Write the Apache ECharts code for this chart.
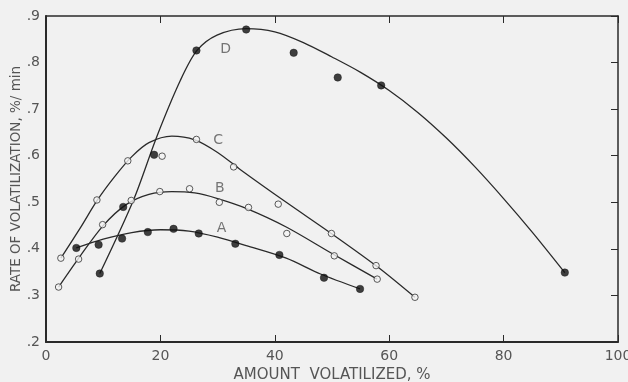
<!DOCTYPE html>
<html>
<head>
<meta charset="utf-8">
<script src="https://cdn.jsdelivr.net/npm/echarts@6/dist/echarts.min.js"></script>
<style>html,body{margin:0;padding:0;background:#f1f1f1}#c{width:628px;height:382px}</style>
</head>
<body>
<div id="c"></div>
<script>
// Tick labels
const xTicks = [0, 20, 40, 60, 80, 100];
const yTickLabels = {0.2: '.2', 0.3: '.3', 0.4: '.4', 0.5: '.5', 0.6: '.6', 0.7: '.7', 0.8: '.8', 0.9: '.9'};

// Measured points
const pointsA = [[5.3,0.402],[9.2,0.409],[13.3,0.422],[17.8,0.436],[22.3,0.443],[26.7,0.433],[33.1,0.411],[40.8,0.387],[48.6,0.338],[54.9,0.314]];
const pointsB = [[2.2,0.318],[5.7,0.378],[9.9,0.452],[14.9,0.504],[19.9,0.523],[25.1,0.529],[30.3,0.500],[35.4,0.489],[42.1,0.433],[50.4,0.385],[57.9,0.335]];
const pointsC = [[2.6,0.380],[8.9,0.505],[14.3,0.589],[20.3,0.599],[26.3,0.635],[32.8,0.576],[40.6,0.496],[49.9,0.433],[57.7,0.364],[64.5,0.296]];
const pointsD = [[9.4,0.347],[13.5,0.490],[18.9,0.602],[26.3,0.826],[35.0,0.871],[43.3,0.821],[51.0,0.768],[58.6,0.751],[90.7,0.349]];

// Fitted curves
const curveA = [[5.3,0.402],[10,0.421],[15,0.435],[20,0.441],[25,0.438],[30,0.425],[35,0.407],[42,0.380],[48,0.346],[54.9,0.314]];
const curveB = [[2.2,0.318],[6,0.385],[10,0.450],[14,0.495],[18,0.517],[22,0.523],[26,0.520],[30,0.508],[35,0.487],[42,0.447],[50,0.390],[57.9,0.335]];
const curveC = [[2.6,0.380],[6,0.445],[9,0.505],[12,0.555],[15,0.598],[18,0.628],[22,0.642],[26,0.634],[30,0.607],[34,0.570],[42,0.500],[50,0.432],[58,0.361],[64.5,0.296]];
const curveD = [[9.4,0.347],[15.3,0.505],[19.4,0.642],[23.5,0.762],[26.4,0.826],[29.9,0.859],[35,0.873],[40,0.866],[45,0.843],[50,0.812],[55,0.779],[60,0.740],[65,0.693],[70,0.638],[75,0.576],[80,0.508],[85,0.436],[90.7,0.349]];

// Curve labels
const curveLabels = [['A',30.7,0.444],['B',30.4,0.530],['C',30.1,0.633],['D',31.4,0.829]];

const chart = echarts.init(document.getElementById('c'));
const textColor = '#555';
const lineColor = '#2a2a2a';
const font = 'DejaVu Sans';

function curve(data) {
  return {type:'line', data:data, smooth:0.3, showSymbol:false, silent:true,
    lineStyle:{color:lineColor, width:1.3}, z:2};
}
function pts(data, filled) {
  return {type:'scatter', data:data, symbol:'circle', symbolSize: filled ? 7.5 : 6.5,
    itemStyle: filled ? {color:'#111', borderColor:'#111', borderWidth:0.5}
                      : {color:'#f4f4f4', borderColor:'#333', borderWidth:1}, z:3};
}

chart.setOption({
  backgroundColor:'#f1f1f1',
  animation:false,
  grid:{left:46, right:10, top:16, bottom:40, containLabel:false, outerBoundsMode:'none'},
  xAxis:[{
    type:'value', min:0, max:100, interval:20, position:'bottom',
    name:'AMOUNT  VOLATILIZED, %', nameLocation:'middle', nameGap:26, nameMoveOverlap:false,
    nameTextStyle:{color:textColor, fontFamily:font, fontSize:15},
    axisLine:{show:true, onZero:false, lineStyle:{color:lineColor, width:2}},
    axisTick:{show:true, inside:true, length:7, lineStyle:{color:lineColor, width:1}},
    axisLabel:{color:textColor, fontFamily:font, fontSize:14, margin:7,
      formatter:v => xTicks.includes(v) ? String(v) : ''},
    splitLine:{show:false}
  },{
    type:'value', min:0, max:100, interval:20, position:'top',
    axisLine:{show:true, onZero:false, lineStyle:{color:lineColor, width:1.5}},
    axisTick:{show:true, inside:true, length:7, lineStyle:{color:lineColor, width:1}},
    axisLabel:{show:false}, splitLine:{show:false}
  }],
  yAxis:[{
    type:'value', min:0.2, max:0.9, interval:0.1, position:'left',
    name:'RATE OF VOLATILIZATION, %/ min', nameLocation:'middle', nameGap:23, nameMoveOverlap:false,
    nameTextStyle:{color:textColor, fontFamily:font, fontSize:13.5},
    axisLine:{show:true, onZero:false, lineStyle:{color:lineColor, width:2}},
    axisTick:{show:false},
    axisLabel:{color:textColor, fontFamily:font, fontSize:14, margin:6,
      formatter:v => yTickLabels[Math.round(v*10)/10] || ''},
    splitLine:{show:false}
  },{
    type:'value', min:0.2, max:0.9, interval:0.1, position:'right',
    axisLine:{show:true, onZero:false, lineStyle:{color:lineColor, width:1.5}},
    axisTick:{show:true, inside:true, length:7, lineStyle:{color:lineColor, width:1}},
    axisLabel:{show:false}, splitLine:{show:false}
  }],
  series:[
    curve(curveA), curve(curveB), curve(curveC), curve(curveD),
    pts(pointsA, true), pts(pointsB, false), pts(pointsC, false), pts(pointsD, true),
    {type:'scatter', symbolSize:0, silent:true, z:4,
      data:curveLabels.map(l => ({value:[l[1], l[2]], name:l[0]})),
      label:{show:true, position:'inside', formatter:p => p.name,
        color:textColor, fontFamily:font, fontSize:14}}
  ]
});
</script>
</body>
</html>
